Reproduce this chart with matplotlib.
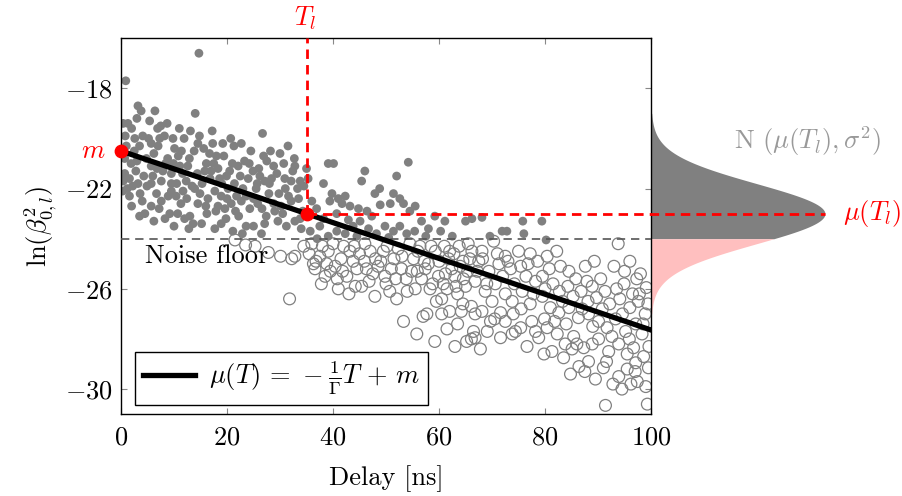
import matplotlib
matplotlib.use('Agg')
import matplotlib.pyplot as plt
import numpy as np

plt.rcParams['font.family'] = 'serif'
plt.rcParams['font.serif'] = ['cmr10']
plt.rcParams['mathtext.fontset'] = 'cm'
plt.rcParams['axes.formatter.use_mathtext'] = True
plt.rcParams['font.size'] = 19

# model parameters
m = -20.5
gamma = 14.0
T_l = 35.0
mu_l = m - T_l / gamma
noise_floor = -24.0
sigma = 1.2

# samples above the noise floor (filled)
filled_pts = np.array([
    (0.9, -17.7), (14.7, -16.6), (3.2, -18.7), (3.8, -18.9), (6.4, -18.9), (14.0, -19.0),
    (0.4, -19.4), (1.3, -19.4), (5.4, -19.3), (7.5, -19.5), (8.7, -19.4), (2.0, -19.6),
    (2.6, -20.0), (4.1, -19.9), (5.7, -20.2), (13.1, -19.7), (14.8, -19.9), (14.5, -20.2),
    (26.7, -19.8), (31.5, -20.3), (21.3, -20.3), (22.7, -20.2), (26.9, -20.7), (7.3, -20.0),
    (8.2, -19.9), (10.1, -20.4), (11.4, -20.5), (13.8, -20.5), (16.7, -20.6), (18.0, -20.7),
    (19.4, -20.7), (0.7, -20.8), (1.9, -21.0), (0.7, -21.4), (1.6, -21.6), (0.4, -21.7),
    (3.2, -21.8), (5.7, -21.1), (7.9, -21.3), (9.5, -21.4), (11.1, -21.1), (12.6, -21.1),
    (14.4, -21.4), (16.1, -21.0), (15.8, -21.3), (18.3, -21.2), (20.5, -21.3), (22.1, -21.1),
    (23.3, -20.9), (24.9, -21.3), (26.2, -21.5), (27.1, -21.7), (28.4, -21.6), (30.7, -21.0),
    (32.4, -21.3), (30.9, -21.6), (32.1, -21.7), (7.6, -21.7), (9.5, -21.8), (11.7, -22.1),
    (13.9, -22.0), (5.7, -21.8), (6.7, -22.2), (9.5, -22.1), (1.6, -22.3), (3.5, -23.1),
    (4.5, -23.0), (5.7, -22.7), (7.6, -22.5), (9.2, -23.0), (10.7, -23.0), (12.0, -23.2),
    (13.0, -23.1), (14.5, -22.6), (16.4, -22.4), (15.2, -23.4), (13.6, -23.4), (17.7, -22.1),
    (18.9, -22.3), (20.2, -22.0), (21.4, -21.8), (18.3, -22.7), (19.6, -22.8), (20.8, -22.6),
    (22.7, -22.5), (17.7, -23.6), (18.9, -23.4), (21.1, -23.7), (23.6, -23.5), (24.3, -22.8),
    (25.8, -22.6), (27.4, -23.1), (29.0, -22.9), (30.2, -22.7), (32.1, -22.5), (27.1, -23.4),
    (29.6, -23.3), (31.2, -23.5), (32.8, -23.3),
    (2.5, -20.5), (3.5, -20.3), (4.8, -20.8), (6.2, -20.6), (8.8, -20.8), (10.5, -21.8),
    (12.3, -21.7), (1.2, -22.0), (2.8, -21.3), (4.3, -21.5), (6.8, -21.2), (0.3, -22.1),
    (0.8, -19.9), (9.8, -20.0), (11.9, -20.0), (12.9, -20.8), (15.3, -21.8), (16.8, -21.6),
    (17.5, -21.0), (19.0, -21.8), (19.9, -21.5), (21.8, -22.3), (23.0, -22.0), (24.0, -21.6),
    (25.5, -22.0), (26.0, -21.2), (27.9, -22.2), (28.8, -21.1), (29.8, -22.2), (31.0, -22.0),
    (33.3, -22.0), (25.0, -23.5), (26.5, -23.8), (19.8, -23.2), (22.2, -23.1), (16.2, -23.0),
    (11.3, -22.6), (8.3, -23.2), (6.2, -23.3), (24.5, -20.5), (28.2, -20.5), (20.7, -20.0),
    (17.3, -20.2), (2.0, -22.7), (3.6, -22.2),
    (1.0, -20.3), (2.2, -21.9), (3.0, -20.9), (4.0, -22.5), (4.9, -21.9), (5.2, -20.0),
    (6.0, -21.5), (7.0, -20.3), (7.2, -22.8), (8.4, -21.0), (8.9, -22.3), (9.9, -21.0),
    (10.4, -22.3), (10.8, -20.7), (11.6, -21.4), (12.4, -22.4), (13.4, -21.9), (14.9, -22.2),
    (15.6, -20.4), (16.0, -22.7), (17.0, -21.3), (17.9, -22.9), (18.6, -21.6), (19.2, -20.2),
    (20.0, -22.4), (21.0, -21.0), (21.6, -22.9), (22.5, -21.5), (23.6, -22.3), (24.2, -21.0),
    (25.0, -22.4), (25.7, -21.8), (26.6, -22.8), (27.5, -20.9), (28.0, -21.8), (28.8, -22.6),
    (29.4, -21.4), (30.0, -20.6), (30.5, -23.0), (31.6, -22.3), (32.7, -20.8), (33.8, -23.2),
    (34.5, -21.9), (12.8, -23.6), (10.0, -23.5), (22.9, -23.8), (6.9, -19.6), (11.0, -19.6),
    (17.2, -19.7), (3.0, -19.2),
    (39.1, -21.0), (40.1, -21.0), (46.0, -21.3), (45.4, -21.7), (54.2, -20.95), (52.0, -21.5),
    (32.8, -21.1), (33.8, -21.7), (35.0, -21.2), (35.3, -21.6), (38.2, -21.8), (39.8, -22.2),
    (41.0, -22.4), (42.3, -22.3), (47.9, -22.2), (48.8, -22.0), (51.4, -22.2), (52.6, -22.4),
    (53.3, -22.6), (39.4, -22.5), (41.7, -22.6), (43.2, -22.7), (44.8, -22.8), (46.4, -22.9),
    (36.9, -22.8), (40.7, -23.0), (47.3, -23.1), (48.9, -22.65), (50.8, -22.6), (54.5, -22.9),
    (55.5, -22.7), (33.5, -22.4), (34.3, -22.9), (36.0, -22.5),
    (35.7, -23.7), (37.5, -23.5), (39.1, -23.9), (40.7, -23.7), (42.3, -23.8), (43.8, -23.5),
    (45.1, -23.3), (46.7, -23.6), (48.2, -23.8), (49.8, -23.5), (51.4, -23.7), (52.6, -23.5),
    (53.9, -23.8), (55.4, -23.7), (56.7, -23.3), (59.2, -23.1), (61.1, -23.3), (65.0, -23.3),
    (69.6, -23.9), (34.0, -23.6), (37.0, -24.0), (44.5, -23.9), (50.5, -23.95), (57.5, -23.9),
    (60.3, -23.7), (62.5, -23.9), (58.0, -23.6), (42.9, -23.25), (38.2, -23.2),
    (66.2, -23.2), (68.1, -23.15), (71.9, -23.7), (72.8, -23.7), (75.8, -23.3), (76.0, -23.8),
    (79.4, -23.3), (80.2, -24.05),
])

# samples below the noise floor (open)
open_pts = np.array([
    (21.5, -24.05), (23.5, -24.25), (25.3, -24.3), (27.8, -24.55), (30.1, -24.7), (32.2, -24.8),
    (31.8, -26.4),
    (32.8, -24.7), (36.3, -25.0), (36.6, -25.2), (37.5, -24.7), (38.5, -25.5), (39.1, -24.5),
    (40.4, -25.1), (41.0, -26.0), (42.6, -25.5), (43.2, -24.5), (43.8, -24.9), (44.5, -25.2),
    (44.2, -25.9), (45.4, -25.9), (46.3, -25.2), (47.0, -24.5), (47.9, -26.3), (48.5, -25.1),
    (49.5, -24.5), (49.8, -25.5), (50.7, -26.1), (51.0, -25.2), (52.3, -24.4), (52.9, -25.2),
    (53.3, -27.3), (54.5, -24.2), (55.2, -24.8), (56.7, -25.6), (57.0, -27.1), (57.7, -27.0),
    (57.4, -25.2), (58.3, -26.0), (59.3, -24.5), (59.9, -25.5), (60.5, -26.4), (60.8, -25.8),
    (61.8, -24.8), (62.4, -25.2), (63.0, -25.5), (64.0, -25.1), (64.6, -25.6), (65.5, -24.2),
    (65.8, -24.8), (66.1, -26.7), (66.5, -27.7), (66.1, -28.0),
    (34.5, -24.3), (35.5, -24.6), (36.0, -24.2), (37.8, -25.8), (38.0, -24.3), (39.5, -25.3),
    (40.0, -24.2), (41.5, -24.8), (42.0, -24.3), (45.0, -24.6), (46.0, -24.2), (46.8, -25.7),
    (48.0, -24.8), (50.2, -24.3), (51.5, -24.8), (53.8, -25.6), (54.8, -25.3), (56.0, -24.5),
    (57.2, -24.9), (58.5, -24.3), (60.0, -24.9), (61.0, -24.3), (62.8, -24.6), (63.8, -24.3),
    (64.5, -24.9), (58.8, -25.8), (61.5, -26.0), (63.5, -26.2), (65.0, -25.9), (55.5, -26.0),
    (52.0, -26.4), (60.5, -27.0), (62.0, -26.9), (63.5, -27.4), (64.5, -26.6), (61.5, -27.6),
    (65.2, -28.1), (63.0, -28.3), (55.8, -27.8), (59.2, -28.1),
    (36.8, -24.9), (38.8, -25.0), (40.8, -25.6), (41.8, -25.3), (43.0, -26.2), (44.0, -24.3),
    (45.9, -24.9), (47.5, -25.4), (49.0, -24.9), (50.0, -25.8), (51.8, -25.6), (53.0, -24.7),
    (54.0, -26.1), (55.9, -25.3), (56.4, -24.3), (58.0, -25.0), (59.5, -26.5), (61.2, -25.4),
    (62.0, -24.5), (63.2, -25.9), (64.2, -26.9), (65.4, -25.3),
    (93.8, -24.2), (96.0, -24.9), (97.3, -25.6), (66.2, -24.5), (68.1, -24.5), (70.3, -24.1),
    (72.5, -24.7), (75.0, -24.5), (77.2, -24.6), (80.4, -24.7), (82.9, -25.1), (84.5, -25.3),
    (87.6, -25.1), (88.9, -25.9), (93.0, -25.1), (94.9, -25.8), (97.8, -26.2), (99.1, -25.95),
    (67.5, -24.9), (69.4, -25.3), (71.3, -25.0), (73.5, -25.2), (75.4, -25.1), (76.4, -25.5),
    (78.2, -25.7), (79.5, -25.5), (81.5, -25.8), (82.7, -26.1), (84.3, -25.9), (85.3, -26.3),
    (86.8, -26.1), (88.1, -26.5), (89.7, -26.35), (91.3, -26.1), (92.2, -26.6), (94.1, -26.4),
    (96.0, -26.75), (97.6, -26.5), (98.9, -27.0),
    (66.8, -25.7), (68.7, -26.1), (70.6, -25.8), (72.5, -26.2), (73.8, -26.5), (75.7, -26.1),
    (77.2, -26.6), (79.5, -26.3), (81.0, -26.75), (82.6, -26.95), (84.5, -26.75), (86.3, -27.15),
    (88.2, -27.0), (90.1, -27.3), (91.7, -27.55), (93.3, -27.2), (95.2, -27.7), (97.1, -27.4),
    (98.3, -27.8),
    (66.8, -27.0), (68.1, -26.9), (69.7, -27.3), (71.6, -26.95), (72.5, -27.3), (74.4, -27.7),
    (75.4, -27.55), (78.2, -27.7), (78.8, -27.95), (80.4, -27.55), (82.3, -27.8), (83.8, -28.2),
    (85.4, -27.9), (87.3, -28.35), (88.9, -28.2), (90.1, -28.0), (92.0, -28.5), (93.9, -28.2),
    (95.5, -28.6), (96.7, -28.35), (98.6, -28.7),
    (66.8, -27.95), (69.1, -27.7), (71.6, -27.95), (73.8, -27.8), (76.6, -28.3), (79.8, -28.6),
    (81.3, -28.5), (83.5, -28.75), (85.1, -28.4), (86.4, -29.1), (88.2, -28.9), (91.0, -29.15),
    (93.9, -29.5), (95.5, -29.2), (97.1, -28.95), (97.4, -29.7), (99.5, -29.15),
    (91.4, -30.65), (99.3, -30.6),
    (67.2, -25.3), (68.2, -24.8), (69.0, -25.8), (70.0, -26.5), (71.0, -24.6), (72.0, -25.5),
    (73.0, -24.9), (74.2, -25.8), (75.5, -26.8), (76.8, -25.0), (77.8, -26.2), (78.6, -24.9),
    (79.9, -27.2), (80.8, -25.2), (81.8, -27.3), (82.2, -24.5), (83.3, -26.5), (84.0, -27.4),
    (85.8, -25.6), (86.0, -28.2), (87.0, -26.8), (87.9, -25.7), (89.0, -27.5), (89.3, -24.9),
    (90.5, -25.6), (90.8, -26.8), (91.6, -28.9), (92.6, -27.9), (93.5, -26.0), (94.6, -27.0),
    (95.0, -25.3), (95.9, -28.0), (96.5, -26.2), (97.0, -29.3), (98.0, -25.4), (98.5, -27.4),
    (99.4, -26.6), (99.6, -28.3), (92.8, -29.8), (94.5, -30.0), (89.5, -29.6), (87.5, -29.3),
    (84.8, -29.4), (96.2, -29.8), (99.0, -29.9), (70.5, -27.2), (74.0, -27.0), (77.5, -27.3),
    (80.0, -26.0), (67.8, -28.4),
])

fig = plt.figure(figsize=(9.03, 4.96), dpi=100)
ax = fig.add_axes([0.134, 0.165, 0.587, 0.758])

ax.scatter(filled_pts[:, 0], filled_pts[:, 1], s=40, color='#808080',
           edgecolors='none', zorder=2)
ax.scatter(open_pts[:, 0], open_pts[:, 1], s=72, facecolors='none',
           edgecolors='#808080', linewidths=0.9, zorder=2)

T = np.array([0.0, 100.0])
ax.plot(T, -T / gamma + m, color='k', lw=3.8, zorder=4,
        label=r'$\mu(T) \,=\, -\frac{1}{\Gamma}T \,+\, m$')

# noise floor
ax.plot([0, 100], [noise_floor, noise_floor], color='#555555', lw=1.2,
        dashes=(5, 3.5), zorder=3)
ax.text(4.5, -24.95, 'Noise floor', ha='left', va='baseline')

# Gaussian at T_l, drawn outside the axes
peak_x = 132.8
y_up = np.linspace(noise_floor, mu_l + 4, 200)
y_lo = np.linspace(mu_l - 4, noise_floor, 200)
g = lambda y: 100 + (peak_x - 100) * np.exp(-(y - mu_l) ** 2 / (2 * sigma ** 2))
ax.fill_betweenx(y_up, 100, g(y_up), color='#808080', lw=0, clip_on=False, zorder=1)
ax.fill_betweenx(y_lo, 100, g(y_lo), color='#ffbfbf', lw=0, clip_on=False, zorder=1)

# red guides
ax.plot([T_l, T_l], [mu_l, -16], color='red', lw=2.0, dashes=(3.4, 2.2),
        zorder=5, clip_on=False)
ax.plot([T_l, peak_x], [mu_l, mu_l], color='red', lw=2.0, dashes=(3.4, 2.2),
        zorder=5, clip_on=False)
ax.scatter([0, T_l], [m, mu_l], s=80, color='red', zorder=6, clip_on=False)

ax.text(-3.0, m, '$m$', color='red', ha='right', va='center')
ax.text(34.7, -15.2, '$T_l$', color='red', ha='center', va='center')
ax.text(136.2, mu_l, r'$\mu(T_l)$', color='red', ha='left', va='center')
ax.text(129.6, -20.1, r'N $(\mu(T_l), \sigma^2)$', color='#999999',
        ha='center', va='center')

ax.set_xlim(0, 100)
ax.set_ylim(-31, -16)
ax.set_xticks([0, 20, 40, 60, 80, 100])
ax.set_yticks([-18, -22, -26, -30])
ax.tick_params(direction='in', top=True, right=True, length=4.5, width=0.8,
               color='#888888')
ax.tick_params(axis='x', pad=8)
ax.tick_params(axis='y', pad=6)
for s in ax.spines.values():
    s.set_linewidth(1.0)

ax.set_xlabel('Delay [ns]', labelpad=12)
ax.set_ylabel(r'$\ln(\beta_{0,l}^2)$', labelpad=4)

leg = ax.legend(loc='lower left', bbox_to_anchor=(0.026, 0.024), borderaxespad=0,
                fancybox=False, edgecolor='k', framealpha=1, handlelength=2.0,
                handletextpad=0.5, borderpad=0.3)
leg.get_frame().set_linewidth(1.0)

fig.savefig('out.png', dpi=100)
